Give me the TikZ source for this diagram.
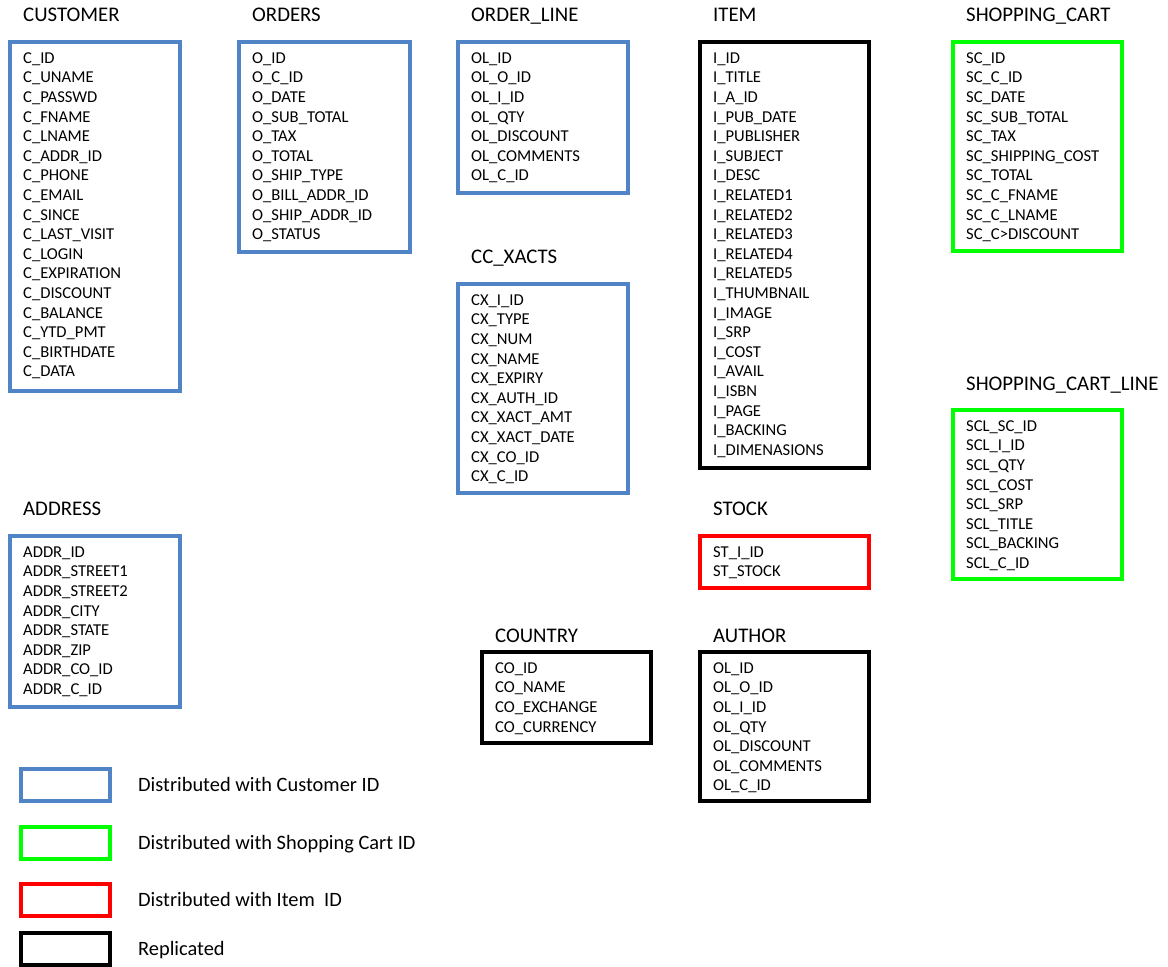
\documentclass[tikz,border=0pt]{standalone}
\usepackage{fontspec}
\setmainfont{Carlito}
\usetikzlibrary{calc}

\definecolor{custblue}{RGB}{80,132,198}
\definecolor{cartgreen}{RGB}{0,255,0}
\definecolor{itemred}{RGB}{255,0,0}

\tikzset{
  tablebox/.style={rectangle, line width=4.2pt, inner sep=0pt, outer sep=0pt, anchor=north west},
  tabletitle/.style={anchor=base west, inner sep=0pt, font=\fontsize{20.8}{24}\selectfont},
  fieldtext/.style={anchor=base west, inner sep=0pt, font=\fontsize{16.6}{19.6}\selectfont},
  legendtext/.style={anchor=base west, inner sep=0pt, font=\fontsize{20.4}{24}\selectfont},
}

% \dbtable{name}{colour}{left}{top}{right}{bottom}{title centre y}{title}{fields}
% left/top/right/bottom are the outer edges of the frame
\newcommand{\dbtable}[9]{%
  \node[tablebox, draw=#2, minimum width={#5-#3-4}, minimum height={#6-#4-4}]
    (#1) at (#3+2,#4+2) {};
  \node[tabletitle] (#1-title) at (#3+15,#7+6.6) {#8};
  \foreach \f [count=\i] in {#9} {
    \node[fieldtext] (#1-\i) at (#3+15,#4+18+5.3+19.6*\i-19.6) {\f};
  }%
}

\begin{document}
\begin{tikzpicture}[x=1pt,y=-1pt]
\useasboundingbox (0,0) rectangle (1168,967);

\dbtable{customer}{custblue}{8}{40}{182}{393}{15}{CUSTOMER}{%
  C\_ID, C\_UNAME, C\_PASSWD, C\_FNAME, C\_LNAME, C\_ADDR\_ID, C\_PHONE,
  C\_EMAIL, C\_SINCE, C\_LAST\_VISIT, C\_LOGIN, C\_EXPIRATION, C\_DISCOUNT,
  C\_BALANCE, C\_YTD\_PMT, C\_BIRTHDATE, C\_DATA}

\dbtable{orders}{custblue}{237}{40}{412}{254}{15}{ORDERS}{%
  O\_ID, O\_C\_ID, O\_DATE, O\_SUB\_TOTAL, O\_TAX, O\_TOTAL, O\_SHIP\_TYPE,
  O\_BILL\_ADDR\_ID, O\_SHIP\_ADDR\_ID, O\_STATUS}

\dbtable{orderline}{custblue}{456}{40}{630}{195}{15}{ORDER\_LINE}{%
  OL\_ID, OL\_O\_ID, OL\_I\_ID, OL\_QTY, OL\_DISCOUNT, OL\_COMMENTS, OL\_C\_ID}

\dbtable{ccxacts}{custblue}{456}{282}{630}{495}{257}{CC\_XACTS}{%
  CX\_I\_ID, CX\_TYPE, CX\_NUM, CX\_NAME, CX\_EXPIRY, CX\_AUTH\_ID,
  CX\_XACT\_AMT, CX\_XACT\_DATE, CX\_CO\_ID, CX\_C\_ID}

\dbtable{item}{black}{698}{40}{871}{470}{15}{ITEM}{%
  I\_ID, I\_TITLE, I\_A\_ID, I\_PUB\_DATE, I\_PUBLISHER, I\_SUBJECT, I\_DESC,
  I\_RELATED1, I\_RELATED2, I\_RELATED3, I\_RELATED4, I\_RELATED5,
  I\_THUMBNAIL, I\_IMAGE, I\_SRP, I\_COST, I\_AVAIL, I\_ISBN, I\_PAGE,
  I\_BACKING, I\_DIMENASIONS}

\dbtable{cart}{cartgreen}{951}{40}{1124}{253}{15}{SHOPPING\_CART}{%
  SC\_ID, SC\_C\_ID, SC\_DATE, SC\_SUB\_TOTAL, SC\_TAX, SC\_SHIPPING\_COST,
  SC\_TOTAL, SC\_C\_FNAME, SC\_C\_LNAME, SC\_C>DISCOUNT}

\dbtable{cartline}{cartgreen}{951}{408}{1124}{581}{384}{SHOPPING\_CART\_LINE}{%
  SCL\_SC\_ID, SCL\_I\_ID, SCL\_QTY, SCL\_COST, SCL\_SRP, SCL\_TITLE,
  SCL\_BACKING, SCL\_C\_ID}

\dbtable{address}{custblue}{8}{534}{182}{709}{509}{ADDRESS}{%
  ADDR\_ID, ADDR\_STREET1, ADDR\_STREET2, ADDR\_CITY, ADDR\_STATE, ADDR\_ZIP,
  ADDR\_CO\_ID, ADDR\_C\_ID}

\dbtable{stock}{itemred}{698}{534}{871}{590}{509}{STOCK}{%
  ST\_I\_ID, ST\_STOCK}

\dbtable{country}{black}{480}{650}{653}{745}{636}{COUNTRY}{%
  CO\_ID, CO\_NAME, CO\_EXCHANGE, CO\_CURRENCY}

\dbtable{author}{black}{698}{650}{871}{803}{636}{AUTHOR}{%
  OL\_ID, OL\_O\_ID, OL\_I\_ID, OL\_QTY, OL\_DISCOUNT, OL\_COMMENTS, OL\_C\_ID}

% legend
\foreach \col/\top/\txt [count=\k] in {
    custblue/767/Distributed with Customer ID,
    cartgreen/825/Distributed with Shopping Cart ID,
    itemred/882/Distributed with Item\ \ ID,
    black/931/Replicated} {
  \node[tablebox, draw=\col, minimum width=89, minimum height=32]
    (legend-\k) at (21,\top+2) {};
  \node[legendtext] (legend-\k-text) at (138,\top+18+6.5) {\txt};
}
\end{tikzpicture}
\end{document}
